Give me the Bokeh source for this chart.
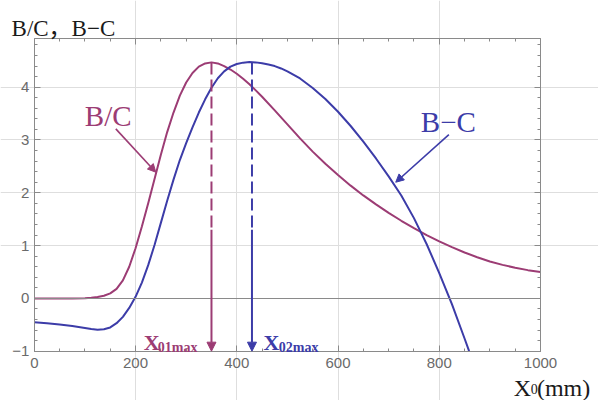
from bokeh.plotting import figure
from bokeh.models import (LinearAxis, Range1d, Label, Arrow, NormalHead, Grid, FixedTicker)
from bokeh.embed import file_html
from bokeh.resources import INLINE

# ---- data ----
x_bc = [0, 25, 50, 75, 100, 112.5, 125, 137.5, 150, 162.5, 175, 187.5, 200, 212.5,
        225, 237.5, 250, 262.5, 275, 287.5, 300, 312.5, 325, 337.5, 350, 362.5,
        375, 387.5, 400, 412.5, 425, 437.5, 450, 475, 500, 525, 550, 575, 600,
        625, 650, 675, 700, 725, 750, 775, 800, 825, 850, 875, 900, 925, 950, 975, 1000]
bc = [0.0, 0.0, 0.0, 0.0, 0.004, 0.01, 0.025, 0.05, 0.095, 0.18, 0.34, 0.60, 0.95, 1.36,
      1.80, 2.26, 2.72, 3.15, 3.52, 3.84, 4.09, 4.27, 4.39, 4.45, 4.47, 4.45,
      4.40, 4.335, 4.255, 4.16, 4.055, 3.94, 3.82, 3.56, 3.295, 3.03, 2.78, 2.55, 2.335,
      2.135, 1.95, 1.78, 1.62, 1.47, 1.33, 1.20, 1.08, 0.97, 0.87, 0.78, 0.70, 0.635, 0.58, 0.535, 0.50]

x_bmc = [0, 25, 50, 75, 100, 112.5, 125, 137.5, 150, 162.5, 175, 187.5, 200, 212.5,
         225, 237.5, 250, 262.5, 275, 287.5, 300, 312.5, 325, 337.5, 350, 362.5,
         375, 387.5, 400, 412.5, 425, 437.5, 450, 462.5, 475, 487.5, 500, 525, 550,
         575, 600, 625, 650, 675, 700, 725, 750, 775, 800, 825, 850, 859]
bmc = [-0.45, -0.47, -0.495, -0.525, -0.56, -0.58, -0.592, -0.585, -0.55, -0.47, -0.35, -0.18, 0.03, 0.30,
       0.63, 1.01, 1.43, 1.85, 2.25, 2.62, 2.94, 3.24, 3.52, 3.77, 3.99, 4.17,
       4.30, 4.39, 4.44, 4.465, 4.475, 4.47, 4.455, 4.43, 4.40, 4.355, 4.30, 4.165, 3.985,
       3.775, 3.535, 3.265, 2.97, 2.65, 2.31, 1.95, 1.52, 1.03, 0.48, -0.11, -0.76, -1.0]

x01max = 350
x02max = 430
ymax_peak = 4.47

x_lo, x_hi = 0, 1000
y_lo, y_hi = -1, 4.925
x_ticks = [0, 200, 400, 600, 800, 1000]
y_ticks = [-1, 0, 1, 2, 3, 4]
y_tick_labels = {-1: "\u22121", 0: "0", 1: "1", 2: "2", 3: "3", 4: "4"}
x_grid = [200, 400, 600, 800]
y_grid = [1, 2, 3, 4]

C_BC = "#9c3c74"
C_BMC = "#3c3ca8"
FRAME = "#8a8a8a"
TICKLBL = "#6a6a6a"
GRID = "#dedede"
SERIF = "Liberation Serif"
SERIF_JP = "Liberation Serif, Noto Sans CJK JP"
INK = "#1a1a1a"

# the frame covers the whole canvas; the plot box is drawn with fixed-location axes
p = figure(width=598, height=400, x_range=Range1d(-66.8, 1114.6), y_range=Range1d(-1.934, 5.642),
           output_backend="svg", toolbar_location=None, x_axis_type=None, y_axis_type=None,
           min_border=0)
p.outline_line_color = None
p.background_fill_color = "white"
p.border_fill_color = "white"

x_minor = list(range(0, 1001, 50))
y_minor = [round(-1 + 0.2 * i, 2) for i in range(0, 30)]


def style(ax, labels=True):
    ax.axis_line_color = FRAME
    ax.axis_line_width = 1
    ax.major_tick_line_color = FRAME
    ax.minor_tick_line_color = FRAME
    ax.major_tick_in = 6
    ax.major_tick_out = 0
    ax.minor_tick_in = 3
    ax.minor_tick_out = 0
    ax.major_label_text_font = "Liberation Sans"
    ax.major_label_text_font_size = "15px"
    ax.major_label_text_color = TICKLBL
    if not labels:
        ax.major_label_text_alpha = 0
        ax.major_label_text_font_size = "1px"


bottom = LinearAxis(fixed_location=y_lo, bounds=(x_lo, x_hi),
                    ticker=FixedTicker(ticks=x_ticks, minor_ticks=x_minor))
top = LinearAxis(fixed_location=y_hi, bounds=(x_lo, x_hi),
                 ticker=FixedTicker(ticks=x_ticks, minor_ticks=x_minor))
left = LinearAxis(fixed_location=x_lo, bounds=(y_lo, y_hi),
                  ticker=FixedTicker(ticks=y_ticks, minor_ticks=y_minor),
                  major_label_overrides=y_tick_labels)
right = LinearAxis(fixed_location=x_hi, bounds=(y_lo, y_hi),
                   ticker=FixedTicker(ticks=y_ticks, minor_ticks=y_minor))
style(bottom)
style(left)
style(top, labels=False)
style(right, labels=False)
bottom.major_label_standoff = 7
left.major_label_standoff = 5
p.add_layout(bottom, "below")
p.add_layout(top, "above")
p.add_layout(left, "left")
p.add_layout(right, "right")

# zero line (Mathematica axis)
zero = LinearAxis(fixed_location=0, bounds=(x_lo, x_hi), ticker=FixedTicker(ticks=[]))
style(zero, labels=False)
p.add_layout(zero, "below")

p.add_layout(Grid(dimension=0, ticker=FixedTicker(ticks=x_grid), bounds=(y_lo, y_hi),
                  grid_line_color=GRID, grid_line_width=1), "center")
p.add_layout(Grid(dimension=1, ticker=FixedTicker(ticks=y_grid), bounds=(x_lo, x_hi),
                  grid_line_color=GRID, grid_line_width=1), "center")

# curves
p.line(x_bc, bc, line_color=C_BC, line_width=2)
p.line(x_bmc, bmc, line_color=C_BMC, line_width=2)

# peak markers: dashed part + solid arrow down to the x axis
y_switch = 1.3
for xm, c in ((x01max, C_BC), (x02max, C_BMC)):
    p.line([xm, xm], [ymax_peak, y_switch], line_color=c, line_width=2, line_dash="12 5")
    p.add_layout(Arrow(end=NormalHead(size=9, fill_color=c, line_color=c, line_width=1),
                       x_start=xm, y_start=y_switch, x_end=xm, y_end=y_lo,
                       line_color=c, line_width=2))

# curve labels with pointer arrows
p.add_layout(Label(x=146, y=3.445, text="B/C", text_font=SERIF, text_font_size="29px",
                   text_color=C_BC, text_align="center", text_baseline="alphabetic"))
p.add_layout(Arrow(end=NormalHead(size=8, fill_color=C_BC, line_color=C_BC, line_width=1),
                   x_start=161, y_start=3.21, x_end=240, y_end=2.39,
                   line_color=C_BC, line_width=1.6))
p.add_layout(Label(x=818, y=3.34, text="B\u2212C", text_font=SERIF, text_font_size="29px",
                   text_color=C_BMC, text_align="center", text_baseline="alphabetic"))
p.add_layout(Arrow(end=NormalHead(size=8, fill_color=C_BMC, line_color=C_BMC, line_width=1),
                   x_start=819, y_start=3.10, x_end=714, y_end=2.20,
                   line_color=C_BMC, line_width=1.6))

# X01max / X02max labels
for xl, xs, c, sub in ((216, 244, C_BC, "01max"), (453, 483, C_BMC, "02max")):
    p.add_layout(Label(x=xl, y=-0.83, text="X", text_font=SERIF, text_font_size="22px",
                       text_font_style="bold", text_color=c, text_baseline="alphabetic"))
    p.add_layout(Label(x=xs, y=-0.925, text=sub, text_font=SERIF, text_font_size="14px",
                       text_font_style="bold", text_color=c, text_baseline="alphabetic"))

# y caption (top left) and x caption (bottom right)
p.add_layout(Label(x=-45, y=5.106, text="B/C\uff0cB\u2212C", text_font=SERIF_JP,
                   text_font_size="23px", text_color=INK, text_baseline="alphabetic"))
p.add_layout(Label(x=947, y=-1.70, text="X", text_font=SERIF, text_font_size="24px",
                   text_color=INK, text_baseline="alphabetic"))
p.add_layout(Label(x=981, y=-1.725, text="0", text_font=SERIF, text_font_size="14px",
                   text_color=INK, text_baseline="alphabetic"))
p.add_layout(Label(x=993, y=-1.70, text="(mm)", text_font=SERIF, text_font_size="24px",
                   text_color=INK, text_baseline="alphabetic"))

open("out.html", "w").write(file_html(p, INLINE))
